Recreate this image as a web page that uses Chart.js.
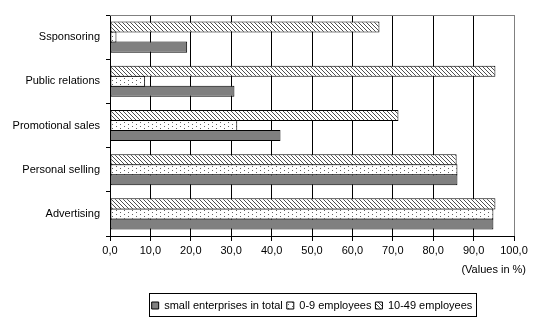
<!DOCTYPE html>
<html>
<head>
<meta charset="utf-8">
<script src="https://cdn.jsdelivr.net/npm/chart.js@4.4.1/dist/chart.umd.min.js"></script>
<style>
  body { margin: 0; background: #fff; }
  canvas { display: block; }
</style>
</head>
<body>
<canvas id="chart" width="544" height="324"></canvas>
<script>
// categories, top to bottom
const categories = ['Ssponsoring', 'Public relations', 'Promotional sales', 'Personal selling', 'Advertising'];
const smallTotal = [19.1, 30.8, 42.2, 86.0, 94.9];
const emp0to9 = [1.6, 8.7, 31.5, 86.0, 94.9];
const emp10to49 = [66.7, 95.4, 71.4, 85.8, 95.4];
const xTicks = [0, 10, 20, 30, 40, 50, 60, 70, 80, 90, 100];

const FONT = { family: '"Liberation Sans", Arial, sans-serif', size: 11 };

// small tiles for the bar fills
function makePattern(w, h, drawTile) {
    const c = document.createElement('canvas');
    c.width = w;
    c.height = h;
    const g = c.getContext('2d');
    g.fillStyle = '#ffffff';
    g.fillRect(0, 0, w, h);
    drawTile(g);
    return g.createPattern(c, 'repeat');
}

const hatch = makePattern(4, 4, g => {
    g.fillStyle = '#505050';
    for (let i = 0; i < 4; i++) g.fillRect(i, i, 1, 1);
});
const dots = makePattern(8, 4, g => {
    g.fillStyle = '#606060';
    g.fillRect(0, 0, 1, 1);
    g.fillRect(4, 2, 1, 1);
});

// gray frame on top + legend box + unit note
const extras = {
    id: 'extras',
    beforeDatasetsDraw(chart) {
        const { ctx, chartArea } = chart;
        ctx.save();
        ctx.strokeStyle = '#808080';
        ctx.lineWidth = 1;
        ctx.beginPath();
        ctx.moveTo(chartArea.left, chartArea.top + 0.5);
        ctx.lineTo(chartArea.right, chartArea.top + 0.5);
        ctx.stroke();
        ctx.restore();
    },
    afterDraw(chart) {
        const { ctx } = chart;
        const boxes = chart.legend.legendHitBoxes;
        if (boxes && boxes.length) {
            const first = boxes[0];
            const last = boxes[boxes.length - 1];
            const left = Math.round(first.left) - 2.5;
            const right = Math.round(last.left + last.width) + 4.5;
            const top = Math.round(first.top) - 6.5;
            const bottom = Math.round(first.top + first.height) + 5.5;
            ctx.save();
            ctx.strokeStyle = '#000';
            ctx.lineWidth = 1;
            ctx.strokeRect(left, top, right - left, bottom - top);
            ctx.restore();
        }
        ctx.save();
        ctx.fillStyle = '#000';
        ctx.font = '11px "Liberation Sans", Arial, sans-serif';
        ctx.textAlign = 'right';
        ctx.textBaseline = 'middle';
        ctx.fillText('(Values in %)', 526, 270);
        ctx.restore();
    }
};

const barStyle = {
    borderColor: '#000000',
    borderWidth: 1,
    borderSkipped: false,
    barPercentage: 1.1,
    categoryPercentage: 0.68
};

new Chart(document.getElementById('chart'), {
    type: 'bar',
    data: {
        labels: categories,
        datasets: [
            Object.assign({ label: '10-49 employees', data: emp10to49, backgroundColor: hatch }, barStyle),
            Object.assign({ label: '0-9 employees', data: emp0to9, backgroundColor: dots }, barStyle),
            Object.assign({ label: 'small enterprises in total', data: smallTotal, backgroundColor: '#808080' }, barStyle)
        ]
    },
    options: {
        indexAxis: 'y',
        responsive: false,
        animation: false,
        layout: { padding: { top: 15, right: 30, bottom: 3, left: 0 } },
        scales: {
            x: {
                min: 0,
                max: 100,
                afterBuildTicks: scale => { scale.ticks = xTicks.map(v => ({ value: v })); },
                afterFit: scale => { scale.height = 60; },
                border: { color: '#000', width: 1 },
                grid: {
                    color: ctx => (ctx.tick && ctx.tick.value === 100 ? '#808080' : '#000000'),
                    lineWidth: 1,
                    tickLength: 5,
                    tickColor: '#000'
                },
                ticks: {
                    color: '#000',
                    font: FONT,
                    padding: 3,
                    maxRotation: 0,
                    callback: v => v.toFixed(1).replace('.', ',')
                }
            },
            y: {
                afterFit: scale => { scale.width = 110; },
                border: { color: '#000', width: 1 },
                grid: {
                    drawOnChartArea: false,
                    tickLength: 4,
                    color: '#000'
                },
                ticks: {
                    color: '#000',
                    font: FONT,
                    padding: 6
                }
            }
        },
        plugins: {
            legend: {
                position: 'bottom',
                fullSize: false,
                labels: {
                    color: '#000',
                    font: FONT,
                    boxWidth: 7,
                    boxHeight: 7,
                    padding: 4,
                    sort: (a, b) => b.datasetIndex - a.datasetIndex
                }
            },
            tooltip: { enabled: false }
        }
    },
    plugins: [extras]
});
</script>
</body>
</html>
